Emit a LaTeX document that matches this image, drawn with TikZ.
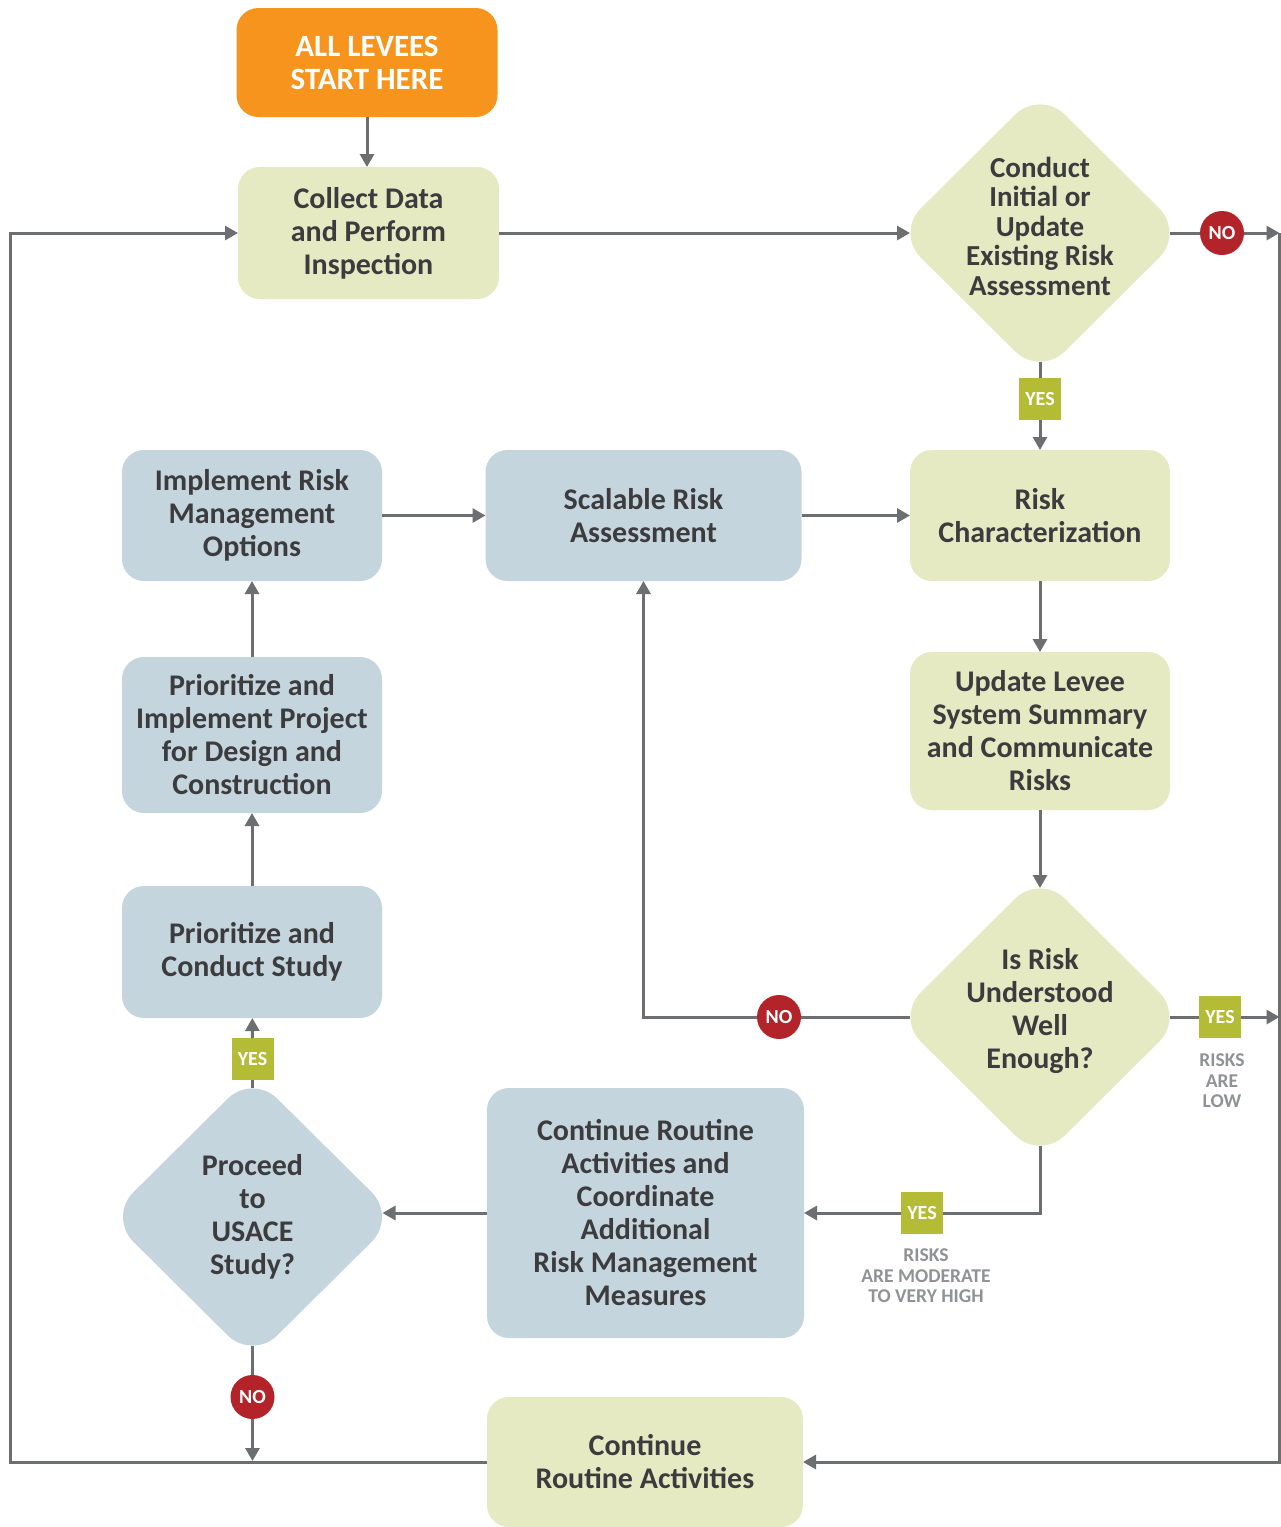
\documentclass[tikz,border=0pt]{standalone}
\usepackage{fontspec}
\setmainfont{Carlito}
\usetikzlibrary{shapes.geometric,arrows.meta}
\definecolor{gfill}{HTML}{E6EAC3}
\definecolor{bfill}{HTML}{C5D5DE}
\definecolor{ofill}{HTML}{F7941E}
\definecolor{redc}{HTML}{B3242A}
\definecolor{yesc}{HTML}{B4BC35}
\definecolor{linec}{HTML}{6D6E71}
\definecolor{txtc}{HTML}{3C3C3E}
\definecolor{lblc}{HTML}{909295}
\begin{document}
\begin{tikzpicture}[x=1pt,y=-1pt,
 box/.style={rounded corners=22pt, inner sep=0pt, outer sep=0pt, align=center, text=txtc, font=\fontsize{30}{33}\selectfont\bfseries},
 gbox/.style={box, fill=gfill},
 bbox/.style={box, fill=bfill},
 dia/.style={diamond, rounded corners=35pt, minimum width=288pt, minimum height=286pt, inner sep=0pt, outer sep=0pt},
 diatext/.style={align=center, text=txtc, font=\fontsize{29}{29.5}\selectfont\bfseries, inner sep=0pt},
 conn/.style={draw=linec, line width=3pt},
 arr/.style={conn, -{Triangle[length=13pt,width=14pt]}},
 nocirc/.style={circle, fill=redc, minimum size=44pt, inner sep=0pt, outer sep=0pt, text=white, font=\fontsize{20}{20}\selectfont\bfseries},
 yesbox/.style={fill=yesc, minimum size=42pt, inner sep=0pt, outer sep=0pt, text=white, font=\fontsize{20}{20}\selectfont\bfseries},
 lbl/.style={text=lblc, align=center, font=\fontsize{19.5}{20.5}\selectfont\bfseries, inner sep=0pt}
]
\useasboundingbox (0,0) rectangle (1281,1527);
\fill[white] (0,0) rectangle (1281,1527);

% boxes
\node[box, fill=ofill, text=white, minimum width=261pt, minimum height=109pt, font=\fontsize{31}{33}\selectfont\bfseries] (start) at (367,62.5) {ALL LEVEES\\START HERE};
\node[gbox, minimum width=261pt, minimum height=132pt] (collect) at (368.5,233) {Collect Data\\and Perform\\Inspection};
\node[dia, fill=gfill, label={[diatext, name=d1t, yshift=7pt]center:{Conduct\\Initial or\\Update\\Existing Risk\\Assessment}}] (d1) at (1040,233) {};
\node[gbox, minimum width=260pt, minimum height=131pt] (rc) at (1040,515.5) {Risk\\Characterization};
\node[bbox, minimum width=316pt, minimum height=131pt] (scal) at (643.5,515.5) {Scalable Risk\\Assessment};
\node[bbox, minimum width=260pt, minimum height=131pt] (impl) at (252,515.5) {Implement Risk\\Management\\Options};
\node[gbox, minimum width=260pt, minimum height=158pt] (upd) at (1040,731) {Update Levee\\System Summary\\and Communicate\\Risks};
\node[dia, fill=gfill, label={[diatext, name=d2t, yshift=6pt, font=\fontsize{30}{33}\selectfont\bfseries]center:{Is Risk\\Understood\\Well\\Enough?}}] (d2) at (1040,1017) {};
\node[bbox, minimum width=317pt, minimum height=250pt] (cc) at (645.5,1213) {Continue Routine\\Activities and\\Coordinate\\Additional\\Risk Management\\Measures};
\node[dia, fill=bfill, label={[diatext, name=d3t, font=\fontsize{30}{33}\selectfont\bfseries]center:{Proceed\\to\\USACE\\Study?}}] (d3) at (252.5,1217) {};
\node[bbox, minimum width=260pt, minimum height=132pt] (ps) at (252,952) {Prioritize and\\Conduct Study};
\node[bbox, minimum width=260pt, minimum height=156pt] (pi) at (252,735) {Prioritize and\\Implement Project\\for Design and\\Construction};
\node[gbox, minimum width=316pt, minimum height=130pt] (contr) at (645,1462) {Continue\\Routine Activities};

% visible diamond tips
\coordinate (d1w) at ([xshift=14pt]d1.west);
\coordinate (d1e) at ([xshift=-14pt]d1.east);
\coordinate (d1s) at ([yshift=14pt]d1.south);
\coordinate (d2n) at ([yshift=-14pt]d2.north);
\coordinate (d2w) at ([xshift=14pt]d2.west);
\coordinate (d2e) at ([xshift=-14pt]d2.east);
\coordinate (d2s) at ([yshift=14pt]d2.south);
\coordinate (d3n) at ([yshift=-14pt]d3.north);
\coordinate (d3e) at ([xshift=-14pt]d3.east);
\coordinate (d3s) at ([yshift=14pt]d3.south);
\coordinate (rt) at (1279.5,233);
\coordinate (rm) at (1279.5,1017);
\coordinate (lb) at (10,1462);
\coordinate (nb) at (252.5,1461);

% markers
\node[nocirc] (no1) at (1222,233) {NO};
\node[yesbox] (yes1) at (1040,399) {YES};
\node[nocirc] (no2) at (779,1017) {NO};
\node[yesbox] (yes2) at (1220,1017) {YES};
\node[yesbox] (yes3) at (922,1213) {YES};
\node[yesbox] (yes4) at (252.5,1059) {YES};
\node[nocirc] (no3) at (252.5,1397) {NO};
\node[lbl] (l1) at (1222,1081) {RISKS\\ARE\\LOW};
\node[lbl] (l2) at (926,1276) {RISKS\\ARE MODERATE\\TO VERY HIGH};

% connectors
\draw[arr] (start.south) -- (start.south |- collect.north);
\draw[arr] (collect.east) -- (d1w);
\draw[arr] (rt) |- (contr.east);
\draw[conn] (d1e) -- (no1);
\draw[arr] (no1) -- (rt);
\draw[conn] (d1s) -- (yes1);
\draw[arr] (yes1) -- (rc);
\draw[arr] (impl) -- (scal);
\draw[arr] (scal) -- (rc);
\draw[arr] (rc) -- (upd);
\draw[arr] (upd) -- (d2n);
\draw[conn] (d2w) -- (no2);
\draw[arr] (no2) -| (scal.south);
\draw[conn] (d2e) -- (yes2);
\draw[arr] (yes2) -- (rm);
\draw[conn] (d2s) |- (yes3);
\draw[arr] (yes3) -- (cc.east);
\draw[arr] (cc.west) -- (cc.west -| d3e);
\draw[conn] (d3n) -- (yes4);
\draw[arr] (yes4) -- (ps);
\draw[arr] (ps) -- (pi);
\draw[arr] (pi) -- (impl);
\draw[conn] (d3s) -- (no3);
\draw[arr] (no3) -- (nb);
\draw[arr] (contr.west) -- (lb) |- (collect.west);
\end{tikzpicture}
\end{document}
